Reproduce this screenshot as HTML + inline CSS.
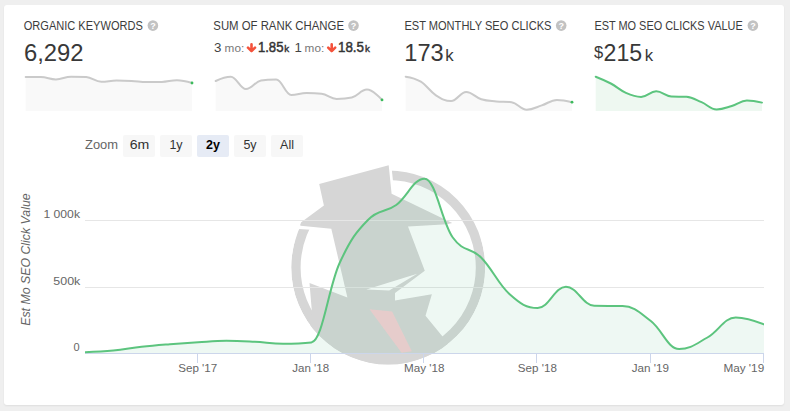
<!DOCTYPE html>
<html><head><meta charset="utf-8"><style>
*{margin:0;padding:0;box-sizing:border-box}
html,body{width:790px;height:411px;overflow:hidden;background:#efefef}
.card{position:absolute;left:4px;top:5px;width:780px;height:400px;background:#fff;border-radius:3px;box-shadow:0 1px 2px rgba(0,0,0,0.07)}
svg{position:absolute;left:0;top:0;font-family:"Liberation Sans", Arial, sans-serif}
.al{font-size:11px;fill:#666}
</style></head><body>
<div class="card"></div>
<svg width="790" height="411" viewBox="0 0 790 411">
<defs><clipPath id="cc"><circle cx="388.2" cy="267.5" r="97.0"/><rect x="0" y="0" width="790" height="240"/></clipPath></defs>
<g clip-path="url(#cc)">
<circle cx="388.2" cy="267.5" r="92.3" fill="none" stroke="#d6d6d6" stroke-width="9.40"/>
<polygon points="268.0,227.0 330.0,231.0 393.6,187.0 390.6,158.0 268.0,158.0" fill="#fff"/>
<polygon points="300.1,224.9 301.2,222.2 323.9,205.5 319.2,184.1 388.7,165.2 391.6,193.7 452.2,222.9 447.0,224.3 408.0,226.5 424.8,270.8 395.0,292.9 395.0,300.5 431.9,294.3 425.5,315.8 446.0,340.7 470.0,380.0 300.0,380.0 312.0,313.0 309.5,282.9 347.4,297.5 331.3,228.7 300.6,225.8" fill="#d6d6d6"/>
<polygon points="417.2,273.7 366.4,289.4 389.2,290.6" fill="#fff"/>
<polygon points="369.5,309.2 392.1,311.4 411.8,351.2 401.6,352.7" fill="#f7cfd3"/>
</g>
<rect x="85" y="220" width="679" height="1" fill="#e6e6e6"/><rect x="85" y="287" width="679" height="1" fill="#e6e6e6"/>
<path d="M85.00,352.20 C85.00,352.20 101.97,351.68 113.29,350.60 C124.61,349.52 130.27,348.08 141.58,346.80 C152.90,345.52 158.56,345.12 169.88,344.20 C181.19,343.28 186.85,342.88 198.17,342.20 C209.48,341.52 215.14,340.80 226.46,340.80 C237.78,340.80 243.43,341.22 254.75,341.80 C266.07,342.38 271.73,343.70 283.04,343.70 C294.36,343.70 300.02,343.70 311.33,342.40 C322.65,341.10 328.31,287.48 339.62,263.00 C350.94,238.52 356.60,231.60 367.92,220.00 C379.23,208.40 384.89,213.24 396.21,205.00 C407.52,196.76 413.18,178.80 424.50,178.80 C435.82,178.80 441.48,221.76 452.79,237.50 C464.11,253.24 469.77,246.20 481.08,257.50 C492.40,268.80 498.06,283.90 509.38,294.00 C520.69,304.10 526.35,308.00 537.67,308.00 C548.98,308.00 554.64,286.80 565.96,286.80 C577.27,286.80 582.93,305.60 594.25,305.80 C605.57,306.00 611.23,305.80 622.54,306.00 C633.86,306.20 639.52,312.40 650.83,321.00 C662.15,329.60 667.81,349.00 679.12,349.00 C690.44,349.00 696.10,343.82 707.42,337.50 C718.73,331.18 724.39,317.40 735.71,317.40 C747.02,317.40 764.00,324.40 764.00,324.40 L764.00,353.5 L85.00,353.5 Z" fill="rgba(85,185,140,0.1)"/>
<rect x="85" y="353" width="679" height="1" fill="#ccd6eb"/>
<rect x="197.0" y="353" width="1" height="10" fill="#ccd6eb"/><rect x="310.0" y="353" width="1" height="10" fill="#ccd6eb"/><rect x="423.0" y="353" width="1" height="10" fill="#ccd6eb"/><rect x="536.0" y="353" width="1" height="10" fill="#ccd6eb"/><rect x="650.0" y="353" width="1" height="10" fill="#ccd6eb"/><rect x="763.0" y="353" width="1" height="10" fill="#ccd6eb"/>
<clipPath id="pc"><rect x="85" y="150" width="679" height="210"/></clipPath>
<path d="M85.00,352.20 C85.00,352.20 101.97,351.68 113.29,350.60 C124.61,349.52 130.27,348.08 141.58,346.80 C152.90,345.52 158.56,345.12 169.88,344.20 C181.19,343.28 186.85,342.88 198.17,342.20 C209.48,341.52 215.14,340.80 226.46,340.80 C237.78,340.80 243.43,341.22 254.75,341.80 C266.07,342.38 271.73,343.70 283.04,343.70 C294.36,343.70 300.02,343.70 311.33,342.40 C322.65,341.10 328.31,287.48 339.62,263.00 C350.94,238.52 356.60,231.60 367.92,220.00 C379.23,208.40 384.89,213.24 396.21,205.00 C407.52,196.76 413.18,178.80 424.50,178.80 C435.82,178.80 441.48,221.76 452.79,237.50 C464.11,253.24 469.77,246.20 481.08,257.50 C492.40,268.80 498.06,283.90 509.38,294.00 C520.69,304.10 526.35,308.00 537.67,308.00 C548.98,308.00 554.64,286.80 565.96,286.80 C577.27,286.80 582.93,305.60 594.25,305.80 C605.57,306.00 611.23,305.80 622.54,306.00 C633.86,306.20 639.52,312.40 650.83,321.00 C662.15,329.60 667.81,349.00 679.12,349.00 C690.44,349.00 696.10,343.82 707.42,337.50 C718.73,331.18 724.39,317.40 735.71,317.40 C747.02,317.40 764.00,324.40 764.00,324.40" fill="none" stroke="#5cc47e" stroke-width="2" stroke-linejoin="round" stroke-linecap="round" clip-path="url(#pc)"/>
<text x="197.75" y="372" text-anchor="middle" class="al" textLength="39.0" lengthAdjust="spacingAndGlyphs">Sep '17</text><text x="310.75" y="372" text-anchor="middle" class="al" textLength="36.8" lengthAdjust="spacingAndGlyphs">Jan '18</text><text x="424.3" y="372" text-anchor="middle" class="al" textLength="40.5" lengthAdjust="spacingAndGlyphs">May '18</text><text x="537.35" y="372" text-anchor="middle" class="al" textLength="39.0" lengthAdjust="spacingAndGlyphs">Sep '18</text><text x="650.35" y="372" text-anchor="middle" class="al" textLength="37.2" lengthAdjust="spacingAndGlyphs">Jan '19</text><text x="764.2" y="372" text-anchor="end" class="al" textLength="40.8" lengthAdjust="spacingAndGlyphs">May '19</text>
<text x="80.0" y="218" text-anchor="end" class="al" textLength="36.6" lengthAdjust="spacingAndGlyphs">1 000k</text><text x="80.3" y="285" text-anchor="end" class="al" textLength="27" lengthAdjust="spacingAndGlyphs">500k</text><text x="79.6" y="350.8" text-anchor="end" class="al">0</text>
<path d="M25.70,77.10 C25.70,77.10 34.77,77.10 40.82,77.10 C46.87,77.10 49.89,79.40 55.94,79.40 C61.99,79.40 65.01,76.70 71.06,76.70 C77.11,76.70 80.13,76.70 86.18,77.10 C92.23,77.50 95.25,81.70 101.30,81.70 C107.35,81.70 110.37,80.60 116.42,80.60 C122.47,80.60 125.49,80.62 131.54,80.90 C137.59,81.18 140.61,82.00 146.66,82.00 C152.71,82.00 155.73,82.00 161.78,81.90 C167.83,81.80 170.85,80.20 176.90,80.20 C182.95,80.20 192.02,83.00 192.02,83.00 L192.02,111.0 L25.70,111.0 Z" fill="#f9f9f9"/><path d="M25.70,77.10 C25.70,77.10 34.77,77.10 40.82,77.10 C46.87,77.10 49.89,79.40 55.94,79.40 C61.99,79.40 65.01,76.70 71.06,76.70 C77.11,76.70 80.13,76.70 86.18,77.10 C92.23,77.50 95.25,81.70 101.30,81.70 C107.35,81.70 110.37,80.60 116.42,80.60 C122.47,80.60 125.49,80.62 131.54,80.90 C137.59,81.18 140.61,82.00 146.66,82.00 C152.71,82.00 155.73,82.00 161.78,81.90 C167.83,81.80 170.85,80.20 176.90,80.20 C182.95,80.20 192.02,83.00 192.02,83.00" fill="none" stroke="#cacaca" stroke-width="2" stroke-linejoin="round" stroke-linecap="round"/><circle cx="192.01999999999998" cy="83.0" r="1.4" fill="#3cba5c"/><path d="M215.70,81.00 C215.70,81.00 224.77,76.70 230.82,76.70 C236.87,76.70 239.89,89.00 245.94,89.00 C251.99,89.00 255.01,81.60 261.06,80.50 C267.11,79.40 270.13,79.40 276.18,79.40 C282.23,79.40 285.25,94.90 291.30,94.90 C297.35,94.90 300.37,93.10 306.42,93.10 C312.47,93.10 315.49,93.10 321.54,93.80 C327.59,94.50 330.61,98.90 336.66,98.90 C342.71,98.90 345.73,98.90 351.78,97.60 C357.83,96.30 360.85,89.60 366.90,89.60 C372.95,89.60 382.02,99.90 382.02,99.90 L382.02,111.0 L215.70,111.0 Z" fill="#f9f9f9"/><path d="M215.70,81.00 C215.70,81.00 224.77,76.70 230.82,76.70 C236.87,76.70 239.89,89.00 245.94,89.00 C251.99,89.00 255.01,81.60 261.06,80.50 C267.11,79.40 270.13,79.40 276.18,79.40 C282.23,79.40 285.25,94.90 291.30,94.90 C297.35,94.90 300.37,93.10 306.42,93.10 C312.47,93.10 315.49,93.10 321.54,93.80 C327.59,94.50 330.61,98.90 336.66,98.90 C342.71,98.90 345.73,98.90 351.78,97.60 C357.83,96.30 360.85,89.60 366.90,89.60 C372.95,89.60 382.02,99.90 382.02,99.90" fill="none" stroke="#cacaca" stroke-width="2" stroke-linejoin="round" stroke-linecap="round"/><circle cx="382.02" cy="99.9" r="1.4" fill="#3cba5c"/><path d="M405.70,76.70 C405.70,76.70 414.77,77.98 420.82,81.70 C426.87,85.42 429.89,91.42 435.94,95.30 C441.99,99.18 445.01,101.10 451.06,101.10 C457.11,101.10 460.13,92.00 466.18,92.00 C472.23,92.00 475.25,97.42 481.30,99.30 C487.35,101.18 490.37,100.82 496.42,101.40 C502.47,101.98 505.49,101.40 511.54,102.20 C517.59,103.00 520.61,109.70 526.66,109.70 C532.71,109.70 535.73,107.36 541.78,105.40 C547.83,103.44 550.85,99.90 556.90,99.90 C562.95,99.90 572.02,102.20 572.02,102.20 L572.02,111.0 L405.70,111.0 Z" fill="#f9f9f9"/><path d="M405.70,76.70 C405.70,76.70 414.77,77.98 420.82,81.70 C426.87,85.42 429.89,91.42 435.94,95.30 C441.99,99.18 445.01,101.10 451.06,101.10 C457.11,101.10 460.13,92.00 466.18,92.00 C472.23,92.00 475.25,97.42 481.30,99.30 C487.35,101.18 490.37,100.82 496.42,101.40 C502.47,101.98 505.49,101.40 511.54,102.20 C517.59,103.00 520.61,109.70 526.66,109.70 C532.71,109.70 535.73,107.36 541.78,105.40 C547.83,103.44 550.85,99.90 556.90,99.90 C562.95,99.90 572.02,102.20 572.02,102.20" fill="none" stroke="#cacaca" stroke-width="2" stroke-linejoin="round" stroke-linecap="round"/><circle cx="572.02" cy="102.2" r="1.4" fill="#3cba5c"/><path d="M595.70,76.70 C595.70,76.70 604.77,80.26 610.82,83.50 C616.87,86.74 619.89,90.22 625.94,92.90 C631.99,95.58 635.01,96.90 641.06,96.90 C647.11,96.90 650.13,91.20 656.18,91.20 C662.23,91.20 665.25,96.20 671.30,96.50 C677.35,96.80 680.37,96.50 686.42,96.80 C692.47,97.10 695.49,99.66 701.54,102.20 C707.59,104.74 710.61,109.50 716.66,109.50 C722.71,109.50 725.73,107.80 731.78,106.00 C737.83,104.20 740.85,100.50 746.90,100.50 C752.95,100.50 762.02,102.60 762.02,102.60 L762.02,111.0 L595.70,111.0 Z" fill="#eef8f1"/><path d="M595.70,76.70 C595.70,76.70 604.77,80.26 610.82,83.50 C616.87,86.74 619.89,90.22 625.94,92.90 C631.99,95.58 635.01,96.90 641.06,96.90 C647.11,96.90 650.13,91.20 656.18,91.20 C662.23,91.20 665.25,96.20 671.30,96.50 C677.35,96.80 680.37,96.50 686.42,96.80 C692.47,97.10 695.49,99.66 701.54,102.20 C707.59,104.74 710.61,109.50 716.66,109.50 C722.71,109.50 725.73,107.80 731.78,106.00 C737.83,104.20 740.85,100.50 746.90,100.50 C752.95,100.50 762.02,102.60 762.02,102.60" fill="none" stroke="#5cc47e" stroke-width="2" stroke-linejoin="round" stroke-linecap="round"/>
<text x="23.7" y="29.8" font-size="12" fill="#3c3c3c" textLength="119.2" lengthAdjust="spacingAndGlyphs">ORGANIC KEYWORDS</text>
<text x="213.3" y="29.8" font-size="12" fill="#3c3c3c" textLength="130.7" lengthAdjust="spacingAndGlyphs">SUM OF RANK CHANGE</text>
<text x="404.4" y="29.8" font-size="12" fill="#3c3c3c" textLength="147.0" lengthAdjust="spacingAndGlyphs">EST MONTHLY SEO CLICKS</text>
<text x="594.4" y="29.8" font-size="12" fill="#3c3c3c" textLength="148.3" lengthAdjust="spacingAndGlyphs">EST MO SEO CLICKS VALUE</text>
<circle cx="152.9" cy="25.6" r="5.3" fill="#c2c2c2"/>
<text x="152.9" y="29.2" font-size="9" fill="#fff" font-weight="bold" text-anchor="middle">?</text>
<circle cx="353.5" cy="25.6" r="5.3" fill="#c2c2c2"/>
<text x="353.5" y="29.2" font-size="9" fill="#fff" font-weight="bold" text-anchor="middle">?</text>
<circle cx="561.2" cy="25.6" r="5.3" fill="#c2c2c2"/>
<text x="561.2" y="29.2" font-size="9" fill="#fff" font-weight="bold" text-anchor="middle">?</text>
<circle cx="752.9" cy="25.6" r="5.3" fill="#c2c2c2"/>
<text x="752.9" y="29.2" font-size="9" fill="#fff" font-weight="bold" text-anchor="middle">?</text>
<text x="23.9" y="60.7" font-size="24" fill="#383838" textLength="59.6" lengthAdjust="spacingAndGlyphs">6,292</text>
<text x="404.3" y="60.7" font-size="24" fill="#383838" textLength="39.4" lengthAdjust="spacingAndGlyphs">173</text>
<text x="445.2" y="60.7" font-size="16.8" fill="#383838">k</text>
<text x="594.0" y="58.4" font-size="16.5" fill="#383838">$</text>
<text x="603.6" y="60.7" font-size="24" fill="#383838" textLength="38.6" lengthAdjust="spacingAndGlyphs">215</text>
<text x="644.8" y="60.7" font-size="16.8" fill="#383838">k</text>
<text x="214.1" y="51.6" font-size="13.3" fill="#444">3</text>
<text x="224.6" y="51.6" font-size="11" fill="#777" textLength="19.6" lengthAdjust="spacingAndGlyphs">mo:</text>
<text x="257.9" y="51.6" font-size="14" fill="#333" textLength="25.6" lengthAdjust="spacingAndGlyphs" stroke="#333" stroke-width="0.45">1.85</text>
<text x="284.2" y="51.6" font-size="9.8" fill="#333" stroke="#333" stroke-width="0.4">k</text>
<text x="294.6" y="51.6" font-size="13.3" fill="#444">1</text>
<text x="304.6" y="51.6" font-size="11" fill="#777" textLength="19.6" lengthAdjust="spacingAndGlyphs">mo:</text>
<text x="338.0" y="51.6" font-size="14" fill="#333" textLength="26.0" lengthAdjust="spacingAndGlyphs" stroke="#333" stroke-width="0.45">18.5</text>
<text x="364.9" y="51.6" font-size="9.8" fill="#333" stroke="#333" stroke-width="0.4">k</text>
<path d="M251.50,44.4 V51 M248.00,47.7 L251.50,51.2 L255.00,47.7" fill="none" stroke="#f4523b" stroke-width="2.6" stroke-linecap="round" stroke-linejoin="round"/>
<path d="M331.70,44.4 V51 M328.20,47.7 L331.70,51.2 L335.20,47.7" fill="none" stroke="#f4523b" stroke-width="2.6" stroke-linecap="round" stroke-linejoin="round"/>
<text x="85.0" y="149.2" font-size="12.5" fill="#666" textLength="33.0" lengthAdjust="spacingAndGlyphs">Zoom</text>
<rect x="123" y="135" width="32" height="22" rx="2" fill="#f7f7f7"/>
<text x="139.5" y="149.1" font-size="12.5" fill="#333" text-anchor="middle" textLength="19.6" lengthAdjust="spacingAndGlyphs">6m</text>
<rect x="160" y="135" width="32" height="22" rx="2" fill="#f7f7f7"/>
<text x="176" y="149.1" font-size="12.5" fill="#333" text-anchor="middle">1y</text>
<rect x="197" y="135" width="32" height="22" rx="2" fill="#e6ebf5"/>
<text x="213" y="149.1" font-size="12.5" fill="#000" font-weight="bold" text-anchor="middle">2y</text>
<rect x="234" y="135" width="32" height="22" rx="2" fill="#f7f7f7"/>
<text x="250" y="149.1" font-size="12.5" fill="#333" text-anchor="middle">5y</text>
<rect x="271" y="135" width="32" height="22" rx="2" fill="#f7f7f7"/>
<text x="287" y="149.1" font-size="12.5" fill="#333" text-anchor="middle">All</text>
<text x="0" y="0" font-size="12" fill="#666" font-style="italic" text-anchor="middle" textLength="132.5" lengthAdjust="spacingAndGlyphs" transform="translate(30.2,259.6) rotate(-90)">Est Mo SEO Click Value</text>
</svg>
</body></html>
